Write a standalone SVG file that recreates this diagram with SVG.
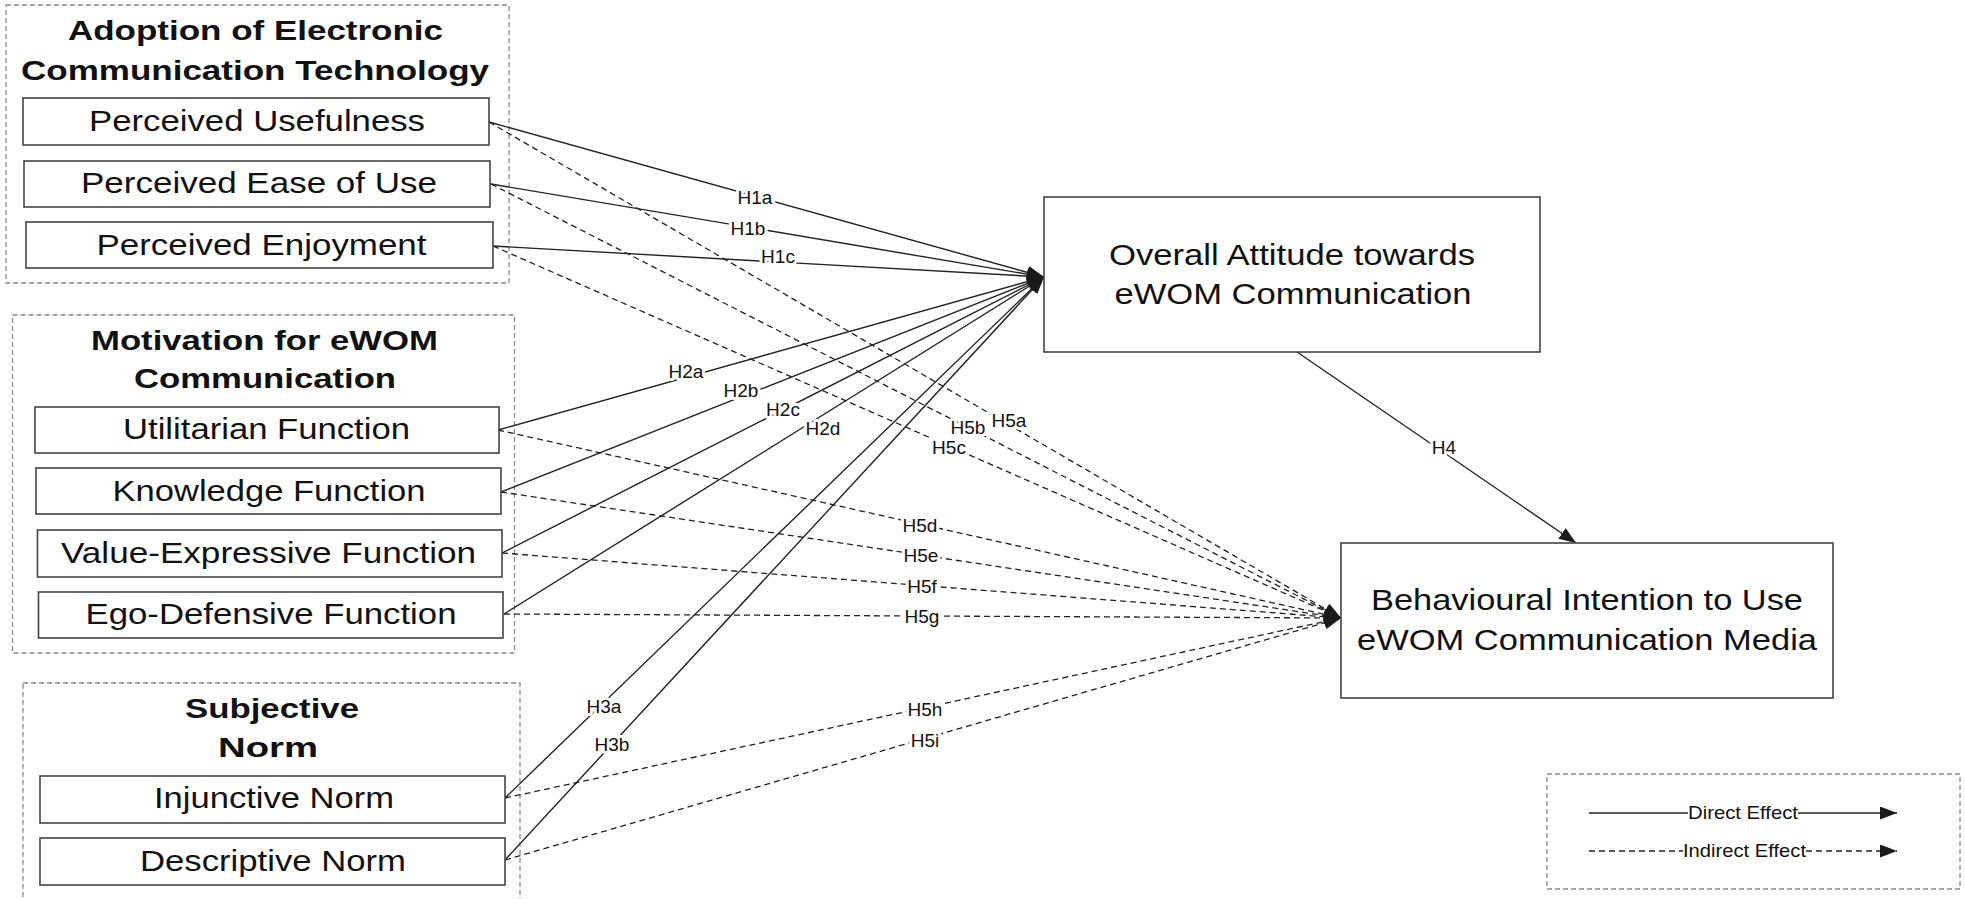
<svg xmlns="http://www.w3.org/2000/svg" width="1964" height="899" viewBox="0 0 1964 899">
  <defs>
    <marker id="arrow" markerUnits="userSpaceOnUse" markerWidth="17" markerHeight="13" refX="17" refY="6.5" orient="auto">
      <path d="M0,0 L17,6.5 L0,13 z" fill="#1a1a1a"/>
    </marker>
  </defs>
  <style>
    .group { fill: none; stroke: #8a8a8a; stroke-width: 1.3; stroke-dasharray: 5 3; }
    .node { fill: #fff; stroke: #444; stroke-width: 1.6; }
    .title { font-family: "Liberation Sans", Arial, sans-serif; font-weight: bold; font-size: 28px; fill: #111; text-anchor: middle; }
    .ntext { font-family: "Liberation Sans", Arial, sans-serif; font-size: 29px; fill: #111; text-anchor: middle; }
    .btext { font-family: "Liberation Sans", Arial, sans-serif; font-size: 30px; fill: #111; text-anchor: middle; }
    .direct { stroke: #222; stroke-width: 1.4; fill: none; }
    .indirect { stroke: #222; stroke-width: 1.3; fill: none; stroke-dasharray: 6 4; }
    .head { marker-end: url(#arrow); }
    .lbl { font-family: "Liberation Sans", Arial, sans-serif; font-size: 19px; fill: #111; text-anchor: middle; stroke: #fff; stroke-width: 6; paint-order: stroke; stroke-linejoin: round; }
    .key { font-family: "Liberation Sans", Arial, sans-serif; font-size: 19px; fill: #111; text-anchor: middle; }
  </style>
  <rect width="1964" height="899" fill="#fff"/>

  <!-- construct groups (dashed frames with headings) -->
  <g id="group-adoption">
    <rect class="group" x="6" y="5" width="503" height="278"/>
    <text class="title" x="255.5" y="40" textLength="375" lengthAdjust="spacingAndGlyphs">Adoption of Electronic</text>
    <text class="title" x="255" y="80" textLength="468" lengthAdjust="spacingAndGlyphs">Communication Technology</text>
  </g>
  <g id="group-motivation">
    <rect class="group" x="12.5" y="315" width="502" height="338"/>
    <text class="title" x="264.5" y="350" textLength="347" lengthAdjust="spacingAndGlyphs">Motivation for eWOM</text>
    <text class="title" x="265" y="388" textLength="262" lengthAdjust="spacingAndGlyphs">Communication</text>
  </g>
  <g id="group-norm">
    <!-- frame runs past the lower edge of the canvas -->
    <rect class="group" x="23" y="683" width="497" height="230"/>
    <text class="title" x="272" y="718" textLength="174" lengthAdjust="spacingAndGlyphs">Subjective</text>
    <text class="title" x="268" y="757" textLength="100" lengthAdjust="spacingAndGlyphs">Norm</text>
  </g>

  <!-- connectors -->
  <g id="connectors">
    <!-- direct effects to overall attitude -->
    <line class="direct head" x1="489" y1="122" x2="1044" y2="277"/>
    <line class="direct head" x1="491" y1="184" x2="1044" y2="277"/>
    <line class="direct head" x1="493" y1="246" x2="1044" y2="277"/>
    <line class="direct head" x1="498" y1="430" x2="1044" y2="277"/>
    <line class="direct head" x1="501" y1="492" x2="1044" y2="277"/>
    <line class="direct head" x1="502" y1="553" x2="1044" y2="277"/>
    <line class="direct head" x1="504" y1="614" x2="1044" y2="277"/>
    <line class="direct head" x1="505" y1="798" x2="1044" y2="277"/>
    <line class="direct head" x1="505" y1="860" x2="1044" y2="277"/>
    <!-- attitude to intention -->
    <line class="direct head" x1="1297" y1="352" x2="1576" y2="543"/>
    <!-- indirect effects to behavioural intention -->
    <line class="indirect head" x1="489" y1="122" x2="1341" y2="618"/>
    <line class="indirect head" x1="491" y1="184" x2="1341" y2="618"/>
    <line class="indirect head" x1="493" y1="246" x2="1341" y2="618"/>
    <line class="indirect head" x1="498" y1="430" x2="1341" y2="618"/>
    <line class="indirect head" x1="501" y1="492" x2="1341" y2="618"/>
    <line class="indirect head" x1="502" y1="553" x2="1341" y2="618"/>
    <line class="indirect head" x1="504" y1="614" x2="1341" y2="618"/>
    <line class="indirect head" x1="505" y1="798" x2="1341" y2="618"/>
    <line class="indirect head" x1="505" y1="860" x2="1341" y2="618"/>

    <!-- hypothesis labels -->
    <text class="lbl" x="755" y="204">H1a</text>
    <text class="lbl" x="748" y="235">H1b</text>
    <text class="lbl" x="778" y="263">H1c</text>
    <text class="lbl" x="686" y="378">H2a</text>
    <text class="lbl" x="741" y="397">H2b</text>
    <text class="lbl" x="783" y="416">H2c</text>
    <text class="lbl" x="823" y="435">H2d</text>
    <text class="lbl" x="604" y="713">H3a</text>
    <text class="lbl" x="612" y="751">H3b</text>
    <text class="lbl" x="1444" y="454">H4</text>
    <text class="lbl" x="1009" y="427">H5a</text>
    <text class="lbl" x="968" y="434">H5b</text>
    <text class="lbl" x="949" y="454">H5c</text>
    <text class="lbl" x="920" y="532">H5d</text>
    <text class="lbl" x="921" y="562">H5e</text>
    <text class="lbl" x="922" y="593">H5f</text>
    <text class="lbl" x="922" y="623">H5g</text>
    <text class="lbl" x="925" y="716">H5h</text>
    <text class="lbl" x="925" y="747">H5i</text>
  </g>

  <!-- adoption constructs -->
  <g id="perceived-usefulness">
    <rect class="node" x="23" y="98" width="466" height="47"/>
    <text class="ntext" x="257" y="131" textLength="336" lengthAdjust="spacingAndGlyphs">Perceived Usefulness</text>
  </g>
  <g id="perceived-ease-of-use">
    <rect class="node" x="24" y="161" width="466" height="46"/>
    <text class="ntext" x="259" y="193" textLength="356" lengthAdjust="spacingAndGlyphs">Perceived Ease of Use</text>
  </g>
  <g id="perceived-enjoyment">
    <rect class="node" x="26" y="222" width="467" height="46"/>
    <text class="ntext" x="261.5" y="255" textLength="330" lengthAdjust="spacingAndGlyphs">Perceived Enjoyment</text>
  </g>

  <!-- motivation constructs -->
  <g id="utilitarian-function">
    <rect class="node" x="35" y="407" width="464" height="46"/>
    <text class="ntext" x="266.5" y="439" textLength="287" lengthAdjust="spacingAndGlyphs">Utilitarian Function</text>
  </g>
  <g id="knowledge-function">
    <rect class="node" x="36" y="468" width="465" height="46"/>
    <text class="ntext" x="269" y="501" textLength="313" lengthAdjust="spacingAndGlyphs">Knowledge Function</text>
  </g>
  <g id="value-expressive-function">
    <rect class="node" x="37.5" y="530" width="464.5" height="47"/>
    <text class="ntext" x="268.5" y="563" textLength="415" lengthAdjust="spacingAndGlyphs">Value-Expressive Function</text>
  </g>
  <g id="ego-defensive-function">
    <rect class="node" x="38.5" y="592" width="464.5" height="46"/>
    <text class="ntext" x="271" y="624" textLength="371" lengthAdjust="spacingAndGlyphs">Ego-Defensive Function</text>
  </g>

  <!-- subjective norm constructs -->
  <g id="injunctive-norm">
    <rect class="node" x="40" y="776" width="465" height="47"/>
    <text class="ntext" x="274" y="808" textLength="240" lengthAdjust="spacingAndGlyphs">Injunctive Norm</text>
  </g>
  <g id="descriptive-norm">
    <rect class="node" x="40" y="838" width="465" height="47"/>
    <text class="ntext" x="273" y="871" textLength="266" lengthAdjust="spacingAndGlyphs">Descriptive Norm</text>
  </g>

  <!-- outcome constructs -->
  <g id="overall-attitude">
    <rect class="node" x="1044" y="197" width="496" height="155"/>
    <text class="btext" x="1292" y="265" textLength="366" lengthAdjust="spacingAndGlyphs">Overall Attitude towards</text>
    <text class="btext" x="1293" y="304" textLength="357" lengthAdjust="spacingAndGlyphs">eWOM Communication</text>
  </g>
  <g id="behavioural-intention">
    <rect class="node" x="1341" y="543" width="492" height="155"/>
    <text class="btext" x="1587" y="610" textLength="432" lengthAdjust="spacingAndGlyphs">Behavioural Intention to Use</text>
    <text class="btext" x="1587" y="650" textLength="460" lengthAdjust="spacingAndGlyphs">eWOM Communication Media</text>
  </g>

  <!-- legend -->
  <g id="legend">
    <rect class="group" x="1547" y="774" width="413" height="115"/>
    <line class="direct" x1="1589" y1="813" x2="1688" y2="813"/>
    <line class="direct head" x1="1798" y1="813" x2="1897" y2="813"/>
    <text class="key" x="1743" y="819" textLength="110" lengthAdjust="spacingAndGlyphs">Direct Effect</text>
    <line class="indirect" x1="1589" y1="851" x2="1683" y2="851"/>
    <line class="indirect head" x1="1806" y1="851" x2="1897" y2="851"/>
    <text class="key" x="1744.5" y="857" textLength="123" lengthAdjust="spacingAndGlyphs">Indirect Effect</text>
  </g>
</svg>
